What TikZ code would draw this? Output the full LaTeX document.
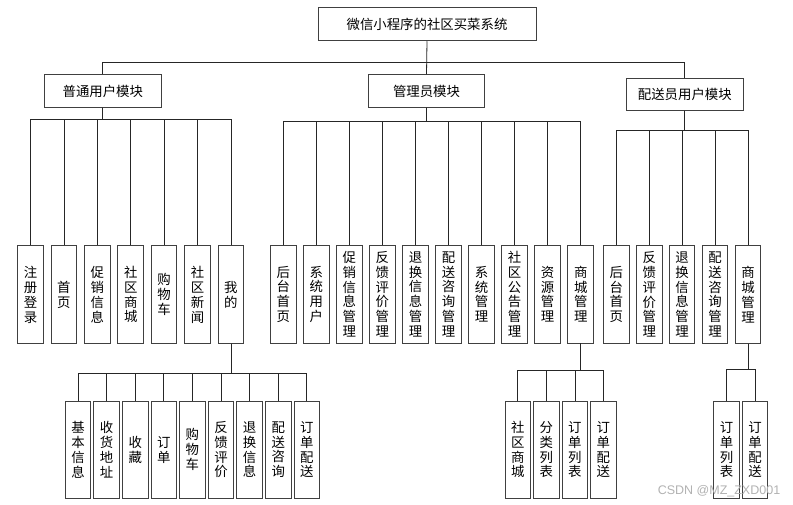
\documentclass[tikz,border=0pt]{standalone}
\usepackage{fontspec}
\newfontfamily\cjk{Noto Sans CJK SC}
\newfontfamily\wmfont{Liberation Sans}
\usetikzlibrary{calc}
\begin{document}
\begin{tikzpicture}[x=1pt,y=-1pt,
  box/.style={draw=black!75, line width=0.9pt, fill=white, inner sep=0pt,
    font=\cjk\fontsize{13.4}{14.8}\selectfont, align=center},
  hbox/.style={box, minimum height=32.6pt},
  vbox/.style={box, minimum width=25.6pt, minimum height=97.5pt},
  conn/.style={draw=black!85, line width=0.8pt}]
\useasboundingbox[fill=white] (0,0) rectangle (793,505);

% top
\node[hbox, minimum width=218pt, minimum height=33pt] (top) at (427,24.3) {微信小程序的社区买菜系统};
% level 1
\node[hbox, minimum width=117pt] (A) at (102.8,91) {普通用户模块};
\node[hbox, minimum width=116.4pt] (B) at (426.5,91) {管理员模块};
\node[hbox, minimum width=116.3pt, minimum height=31.6pt] (C) at (684.8,94.5) {配送员用户模块};

% bus coordinates
\coordinate (bus0) at (0,62.3);
\coordinate (busA) at (0,119);
\coordinate (busB) at (0,121.7);
\coordinate (busC) at (0,130.7);
\coordinate (busD) at (0,373.3);
\coordinate (busE) at (0,370.7);
\coordinate (busF) at (0,369.3);

% left children
\node[vbox] (a1) at (30.5,294.7) {注\\册\\登\\录};
\node[vbox] (a2) at (63.9,294.7) {首\\页};
\node[vbox] (a3) at (97.3,294.7) {促\\销\\信\\息};
\node[vbox] (a4) at (130.7,294.7) {社\\区\\商\\城};
\node[vbox] (a5) at (164.1,294.7) {购\\物\\车};
\node[vbox] (a6) at (197.5,294.7) {社\\区\\新\\闻};
\node[vbox] (a7) at (230.9,294.7) {我\\的};

% middle children
\node[vbox] (b1) at (283.3,294.2) {后\\台\\首\\页};
\node[vbox] (b2) at (316.3,294.2) {系\\统\\用\\户};
\node[vbox] (b3) at (349.4,294.2) {促\\销\\信\\息\\管\\理};
\node[vbox] (b4) at (382.4,294.2) {反\\馈\\评\\价\\管\\理};
\node[vbox] (b5) at (415.5,294.2) {退\\换\\信\\息\\管\\理};
\node[vbox] (b6) at (448.5,294.2) {配\\送\\咨\\询\\管\\理};
\node[vbox] (b7) at (481.5,294.2) {系\\统\\管\\理};
\node[vbox] (b8) at (514.6,294.2) {社\\区\\公\\告\\管\\理};
\node[vbox] (b9) at (547.6,294.2) {资\\源\\管\\理};
\node[vbox] (b10) at (580.7,294.2) {商\\城\\管\\理};

% right children
\node[vbox] (c1) at (616.2,294.5) {后\\台\\首\\页};
\node[vbox] (c2) at (649.2,294.5) {反\\馈\\评\\价\\管\\理};
\node[vbox] (c3) at (682.1,294.5) {退\\换\\信\\息\\管\\理};
\node[vbox] (c4) at (715.1,294.5) {配\\送\\咨\\询\\管\\理};
\node[vbox] (c5) at (748,294.5) {商\\城\\管\\理};

% bottom left (under 我的)
\node[vbox] (d1) at (78,449.7) {基\\本\\信\\息};
\node[vbox] (d2) at (106.6,449.7) {收\\货\\地\\址};
\node[vbox] (d3) at (135.2,449.7) {收\\藏};
\node[vbox] (d4) at (163.8,449.7) {订\\单};
\node[vbox] (d5) at (192.4,449.7) {购\\物\\车};
\node[vbox] (d6) at (221,449.7) {反\\馈\\评\\价};
\node[vbox] (d7) at (249.6,449.7) {退\\换\\信\\息};
\node[vbox] (d8) at (278.2,449.7) {配\\送\\咨\\询};
\node[vbox] (d9) at (306.8,449.7) {订\\单\\配\\送};

% bottom middle (under 商城管理, admin)
\node[vbox] (e1) at (517.8,449.7) {社\\区\\商\\城};
\node[vbox] (e2) at (546.3,449.7) {分\\类\\列\\表};
\node[vbox] (e3) at (574.9,449.7) {订\\单\\列\\表};
\node[vbox] (e4) at (603.4,449.7) {订\\单\\配\\送};

% bottom right (under 商城管理, delivery)
\node[vbox] (f1) at (726.5,449.7) {订\\单\\列\\表};
\node[vbox] (f2) at (755,449.7) {订\\单\\配\\送};

% connectors: top level
\draw[conn] (top.south) -- (B.north);
\draw[conn] (A.north) -- (A.north |- bus0) -- (C.north |- bus0) -- (C.north);

\foreach \c in {a1,a2,a3,a4,a5,a6,a7}
  \draw[conn] (A.south) |- (\c.north |- busA) -- (\c.north);
\foreach \c in {b1,b2,b3,b4,b5,b6,b7,b8,b9,b10}
  \draw[conn] (B.south) |- (\c.north |- busB) -- (\c.north);
\foreach \c in {c1,c2,c3,c4,c5}
  \draw[conn] (C.south) |- (\c.north |- busC) -- (\c.north);
\foreach \c in {d1,d2,d3,d4,d5,d6,d7,d8,d9}
  \draw[conn] (a7.south) |- (\c.north |- busD) -- (\c.north);
\foreach \c in {e1,e2,e3,e4}
  \draw[conn] (b10.south) |- (\c.north |- busE) -- (\c.north);
\foreach \c in {f1,f2}
  \draw[conn] (c5.south) |- (\c.north |- busF) -- (\c.north);

% watermark
\node[font=\wmfont\fontsize{12.5}{14}\selectfont, text=black!30, inner sep=0pt] (wm) at (719,491.7) {CSDN @MZ\_ZXD001};
\end{tikzpicture}
\end{document}
